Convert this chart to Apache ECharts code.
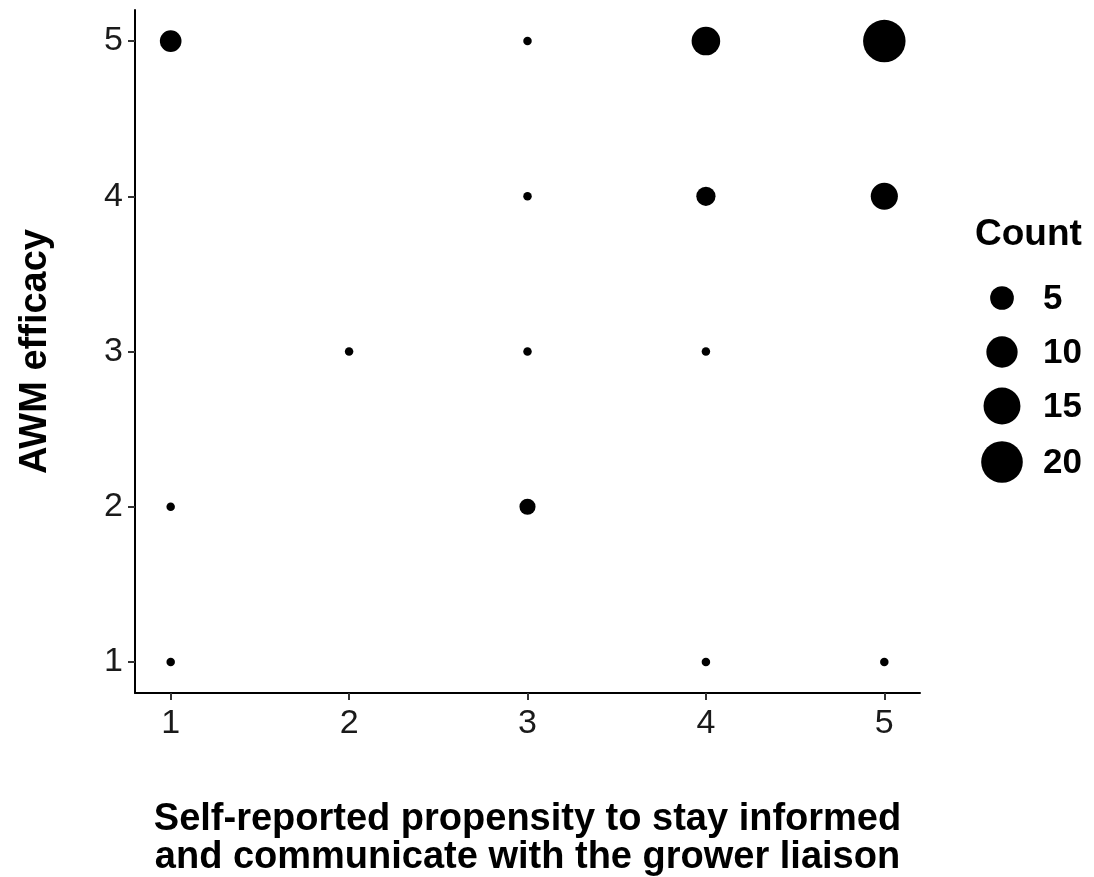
<!DOCTYPE html>
<html>
<head>
<meta charset="utf-8">
<script src="https://cdn.jsdelivr.net/npm/echarts@6/dist/echarts.min.js"></script>
<style>html,body{margin:0;padding:0;background:#fff}#c{width:1094px;height:877px}</style>
</head>
<body>
<div id="c"></div>
<script>
const xValues = [1, 3, 4, 5, 3, 4, 5, 2, 3, 4, 1, 3, 1, 4, 5];
const yValues = [5, 5, 5, 5, 4, 4, 4, 3, 3, 3, 2, 2, 1, 1, 1];
const counts  = [4, 1, 8, 21, 1, 3, 7, 1, 1, 1, 1, 2, 1, 1, 1];
const tickValues = [1, 2, 3, 4, 5];
const legendCounts = [5, 10, 15, 20];
const xTitle = 'Self-reported propensity to stay informed\nand communicate with the grower liaison';
const yTitle = 'AWM efficacy';
const legendTitle = 'Count';

function sizeOf(c) { return 8.5 + 7.6 * Math.sqrt(Math.max(c - 1, 0)); }

const chart = echarts.init(document.getElementById('c'));
const font = 'Liberation Sans, Arial, sans-serif';
const data = xValues.map((x, i) => [x, yValues[i], counts[i]]);

const graphics = [{
  type: 'text', x: 975, y: 235,
  style: { text: legendTitle, font: 'bold 37px ' + font, fill: '#000', verticalAlign: 'middle' }
}];
const legendY = [298, 352, 406, 462];
legendCounts.forEach((c, i) => {
  const d = sizeOf(c);
  graphics.push({ type: 'circle', shape: { cx: 1002, cy: legendY[i], r: d / 2 }, style: { fill: '#000' } });
  graphics.push({ type: 'text', x: 1043, y: legendY[i] + 1,
    style: { text: String(c), font: 'bold 35px ' + font, fill: '#000', verticalAlign: 'middle' } });
});

chart.setOption({
  animation: false,
  backgroundColor: '#fff',
  grid: { left: 135, right: 174, top: 10, bottom: 184, containLabel: false, outerBoundsMode: 'none' },
  xAxis: {
    type: 'value', min: 0.8, max: 5.2,
    name: xTitle, nameLocation: 'middle', nameGap: 108,
    nameTextStyle: { fontFamily: font, fontWeight: 'bold', fontSize: 38, color: '#000', lineHeight: 38 },
    axisLine: { show: true, onZero: false, lineStyle: { color: '#000', width: 2 } },
    axisTick: { show: true, customValues: tickValues, length: 7, lineStyle: { color: '#333', width: 2 } },
    axisLabel: { customValues: tickValues, fontFamily: font, fontSize: 34, color: '#1a1a1a', margin: 14 },
    splitLine: { show: false }
  },
  yAxis: {
    type: 'value', min: 0.8, max: 5.2,
    name: yTitle, nameLocation: 'middle', nameGap: 80, nameRotate: 90,
    nameTextStyle: { fontFamily: font, fontWeight: 'bold', fontSize: 38, color: '#000' },
    axisLine: { show: true, onZero: false, lineStyle: { color: '#000', width: 2 } },
    axisTick: { show: true, customValues: tickValues, length: 7, lineStyle: { color: '#333', width: 2 } },
    axisLabel: { customValues: tickValues, fontFamily: font, fontSize: 34, color: '#1a1a1a', margin: 12 },
    splitLine: { show: false }
  },
  series: [{
    type: 'scatter',
    data: data,
    symbol: 'circle',
    symbolSize: v => sizeOf(v[2]),
    itemStyle: { color: '#000', opacity: 1 }
  }],
  graphic: graphics
});
</script>
</body>
</html>
